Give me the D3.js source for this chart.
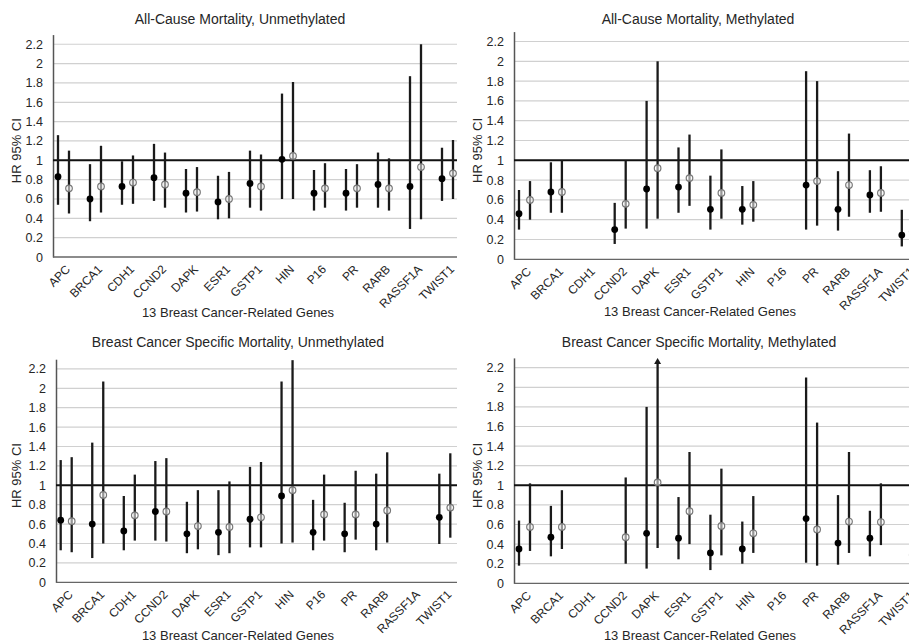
<!DOCTYPE html>
<html>
<head>
<meta charset="utf-8">
<script src="https://cdn.jsdelivr.net/npm/d3@7"></script>
<style>
  html, body { margin: 0; padding: 0; background: #fff; }
  svg { display: block; }
  text { font-family: "Liberation Sans", Arial, sans-serif; fill: #262626; }
</style>
</head>
<body>
<svg id="chart" width="909" height="643"></svg>
<script>
// ---------- DATA ----------
const genes = ["APC","BRCA1","CDH1","CCND2","DAPK","ESR1","GSTP1","HIN","P16","PR","RARB","RASSF1A","TWIST1"];
const yTicks = [0, 0.2, 0.4, 0.6, 0.8, 1, 1.2, 1.4, 1.6, 1.8, 2, 2.2];
const panelTitles = [
  "All-Cause Mortality, Unmethylated",
  "All-Cause Mortality, Methylated",
  "Breast Cancer Specific Mortality, Unmethylated",
  "Breast Cancer Specific Mortality, Methylated"
];
const xAxisTitle = "13 Breast Cancer-Related Genes";
const yAxisTitle = "HR 95% CI";

// each entry: [HR, lower 95% CI, upper 95% CI], null = not reported
const acUnmethFilled = [[0.83,0.54,1.26],[0.60,0.37,0.96],[0.73,0.54,0.99],[0.82,0.58,1.17],[0.66,0.46,0.91],[0.57,0.39,0.84],[0.76,0.51,1.10],[1.01,0.60,1.69],[0.66,0.48,0.90],[0.66,0.48,0.91],[0.75,0.51,1.08],[0.73,0.29,1.87],[0.81,0.58,1.13]];
const acUnmethOpen   = [[0.71,0.45,1.10],[0.73,0.46,1.15],[0.77,0.55,1.05],[0.75,0.51,1.08],[0.67,0.47,0.93],[0.60,0.40,0.88],[0.73,0.48,1.06],[1.045,0.60,1.81],[0.71,0.51,0.97],[0.71,0.51,0.96],[0.71,0.48,1.02],[0.93,0.39,2.20],[0.865,0.60,1.21]];

const acMethFilled = [[0.46,0.30,0.70],[0.68,0.47,0.98],null,[0.30,0.155,0.57],[0.71,0.31,1.60],[0.73,0.47,1.13],[0.505,0.30,0.845],[0.505,0.35,0.74],null,[0.75,0.30,1.90],[0.505,0.29,0.89],[0.65,0.47,0.90],[0.245,0.13,0.50]];
const acMethOpen   = [[0.60,0.40,0.79],[0.68,0.47,1.00],null,[0.56,0.31,1.00],[0.92,0.41,2.00],[0.82,0.54,1.26],[0.67,0.41,1.11],[0.55,0.38,0.79],null,[0.79,0.34,1.80],[0.75,0.43,1.27],[0.67,0.48,0.94],[0.28,0.15,0.55]];

const bcsmUnmethFilled = [[0.64,0.33,1.26],[0.60,0.25,1.44],[0.53,0.33,0.89],[0.73,0.43,1.25],[0.50,0.30,0.83],[0.515,0.28,0.95],[0.65,0.36,1.19],[0.89,0.40,2.07],[0.515,0.33,0.85],[0.50,0.31,0.82],[0.60,0.33,1.12],null,[0.67,0.395,1.12]];
const bcsmUnmethOpen   = [[0.63,0.31,1.29],[0.90,0.40,2.07],[0.69,0.43,1.11],[0.73,0.42,1.28],[0.58,0.34,0.95],[0.57,0.30,1.04],[0.67,0.36,1.24],[0.95,0.41,2.29],[0.70,0.43,1.11],[0.70,0.44,1.15],[0.74,0.41,1.34],null,[0.77,0.46,1.33]];

const bcsmMethFilled = [[0.35,0.18,0.64],[0.47,0.275,0.79],null,null,[0.51,0.15,1.80],[0.46,0.245,0.88],[0.31,0.135,0.70],[0.35,0.20,0.63],null,[0.66,0.21,2.10],[0.41,0.19,0.90],[0.46,0.275,0.74],null];
const bcsmMethOpen   = [[0.575,0.33,1.02],[0.575,0.35,0.95],null,[0.47,0.20,1.08],[1.03,0.36,2.30],[0.735,0.40,1.34],[0.585,0.285,1.17],[0.51,0.31,0.89],null,[0.55,0.18,1.64],[0.63,0.31,1.34],[0.625,0.39,1.02],[0.29,0.15,0.60]];
const bcsmMethOpenArrow = ["DAPK"]; // upper limit beyond axis, drawn as arrow

// ---------- LAYOUT ----------
const svg = d3.select("#chart");
const panels = [
  { title: panelTitles[0], filled: acUnmethFilled, open: acUnmethOpen, arrows: [],
    axisX: 53, y0: 257, unit: 96.7, x0: 63.5, step: 32, gridEnd: 457, titleX: 240, titleY: 24, xTitleX: 238, xTitleY: 317, yTitleX: 21 },
  { title: panelTitles[1], filled: acMethFilled, open: acMethOpen, arrows: [],
    axisX: 514, y0: 259.3, unit: 99, x0: 524.5, step: 31.9, gridEnd: 920, titleX: 698, titleY: 24, xTitleX: 700, xTitleY: 316, yTitleX: 482 },
  { title: panelTitles[2], filled: bcsmUnmethFilled, open: bcsmUnmethOpen, arrows: [],
    axisX: 56, y0: 582.3, unit: 97, x0: 66.2, step: 31.55, gridEnd: 457, titleX: 238, titleY: 347, xTitleX: 238, xTitleY: 640, yTitleX: 21 },
  { title: panelTitles[3], filled: bcsmMethFilled, open: bcsmMethOpen, arrows: bcsmMethOpenArrow,
    axisX: 514, y0: 583.3, unit: 98, x0: 524.5, step: 31.9, gridEnd: 920, titleX: 699, titleY: 347, xTitleX: 700, xTitleY: 640, yTitleX: 482 }
];

const yMax = 2.3;
const off = 5.5;
const FONT = '"Liberation Sans", Arial, sans-serif';

panels.forEach(p => {
  const g = svg.append("g");
  const y = d3.scaleLinear().domain([0, yMax]).range([p.y0, p.y0 - yMax * p.unit]);
  const x = d3.scalePoint().domain(genes).range([p.x0, p.x0 + p.step * (genes.length - 1)]);

  // gridlines
  g.append("g").selectAll("line").data(yTicks.filter(t => t > 0 && t !== 1)).join("line")
    .attr("x1", p.axisX).attr("x2", p.gridEnd)
    .attr("y1", d => y(d)).attr("y2", d => y(d))
    .attr("stroke", "#d0d0d0").attr("stroke-width", 1.2);

  // y axis
  const ya = d3.axisLeft(y).tickValues(yTicks).tickSize(0).tickPadding(10)
    .tickFormat(d => d3.format("~g")(d));
  const yg = g.append("g").attr("transform", `translate(${p.axisX},0)`).call(ya);
  yg.select(".domain").attr("stroke", "#555").attr("stroke-width", 1.5);
  yg.selectAll("text").attr("font-size", 12.5).attr("fill", "#262626").attr("font-family", FONT);

  // x axis baseline
  g.append("line").attr("x1", p.axisX).attr("x2", p.gridEnd)
    .attr("y1", y(0)).attr("y2", y(0)).attr("stroke", "#666").attr("stroke-width", 1.3);

  // reference line HR = 1
  g.append("line").attr("x1", p.axisX).attr("x2", p.gridEnd)
    .attr("y1", y(1)).attr("y2", y(1)).attr("stroke", "#111").attr("stroke-width", 2);

  // x tick labels
  const xa = d3.axisBottom(x).tickSize(0).tickPadding(0);
  const xg = g.append("g").attr("transform", `translate(0,${p.y0})`).call(xa);
  xg.select(".domain").remove();
  xg.selectAll(".tick text")
    .attr("y", 0).attr("dy", 0)
    .attr("text-anchor", "end")
    .attr("font-size", 12).attr("fill", "#262626").attr("font-family", FONT)
    .attr("transform", "translate(7,13) rotate(-45)");

  // series
  const series = [
    { data: p.filled, dx: -off, type: "filled" },
    { data: p.open, dx: off, type: "open" }
  ];
  series.forEach(s => {
    const pts = genes.map((gname, i) => s.data[i] ? { gene: gname, hr: s.data[i][0], lo: s.data[i][1], hi: s.data[i][2] } : null)
      .filter(d => d);
    const arrowed = d => s.type === "open" && p.arrows.includes(d.gene);
    g.append("g").selectAll("line").data(pts).join("line")
      .attr("x1", d => x(d.gene) + s.dx).attr("x2", d => x(d.gene) + s.dx)
      .attr("y1", d => y(d.lo)).attr("y2", d => arrowed(d) ? y(d.hi) + 5 : y(d.hi))
      .attr("stroke", "#1a1a1a").attr("stroke-width", 2.3);
    g.append("g").selectAll("path").data(pts.filter(arrowed)).join("path")
      .attr("d", d => {
        const cx = x(d.gene) + s.dx, ty = y(d.hi);
        return `M${cx},${ty} L${cx - 3.5},${ty + 6} L${cx + 3.5},${ty + 6} Z`;
      })
      .attr("fill", "#1a1a1a");
    if (s.type === "filled") {
      g.append("g").selectAll("circle").data(pts).join("circle")
        .attr("cx", d => x(d.gene) + s.dx).attr("cy", d => y(d.hr)).attr("r", 3.4)
        .attr("fill", "#000");
    } else {
      g.append("g").selectAll("circle").data(pts).join("circle")
        .attr("cx", d => x(d.gene) + s.dx).attr("cy", d => y(d.hr)).attr("r", 3.3)
        .attr("fill", "rgba(255,255,255,0.55)").attr("stroke", "#777").attr("stroke-width", 1.2);
    }
  });

  // titles
  g.append("text").attr("x", p.titleX).attr("y", p.titleY).attr("text-anchor", "middle")
    .attr("font-size", 14).text(p.title);
  g.append("text").attr("x", p.xTitleX).attr("y", p.xTitleY).attr("text-anchor", "middle")
    .attr("font-size", 13).text(xAxisTitle);
  const cy = p.y0 - 1.1 * p.unit;
  g.append("text").attr("transform", `translate(${p.yTitleX},${cy}) rotate(-90)`)
    .attr("text-anchor", "middle").attr("font-size", 13).text(yAxisTitle);
});
</script>
</body>
</html>
